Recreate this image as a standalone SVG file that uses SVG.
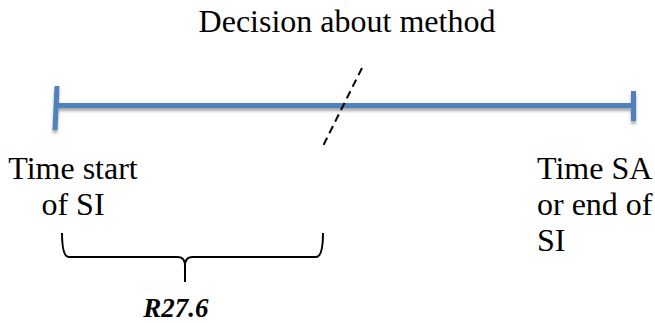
<svg xmlns="http://www.w3.org/2000/svg" width="655" height="323" viewBox="0 0 655 323">
<style>
.t{font-family:'Liberation Serif',Tinos,'Times New Roman','DejaVu Serif',serif;font-size:32px;fill:#000}
.b{font-family:'Liberation Serif',Tinos,'Times New Roman','DejaVu Serif',serif;font-size:27px;font-weight:bold;font-style:italic;fill:#000}
.axis{stroke:#4F81BD;stroke-width:5;fill:none}
</style>
<defs>
<filter id="sh" x="-10%" y="-50%" width="120%" height="200%">
<feGaussianBlur in="SourceAlpha" stdDeviation="1.5"/>
<feOffset dx="0" dy="3" result="o"/>
<feComponentTransfer><feFuncA type="linear" slope="0.35"/></feComponentTransfer>
<feMerge><feMergeNode/><feMergeNode in="SourceGraphic"/></feMerge>
</filter>
</defs>
<rect width="655" height="323" fill="#fff"/>
<g id="timeline" filter="url(#sh)">
<line class="axis" x1="58" y1="105.5" x2="631" y2="105.5"/>
<line class="axis" x1="57" y1="86" x2="55" y2="130"/>
<line class="axis" x1="633.5" y1="91" x2="633.5" y2="121"/>
</g>
<g id="connectors">
<line x1="362" y1="68" x2="322" y2="148" stroke="#000" stroke-width="2" stroke-dasharray="8,5"/>
<path d="M62,233 Q62,257 69,257 L178,257 Q185,257 185,266 L185,282 M185,266 Q185,257 192,257 L316,257 Q323,257 323,233" fill="none" stroke="#000" stroke-width="2"/>
</g>
<g id="decision"><text class="t" x="347" y="32" text-anchor="middle" font-family="Liberation Serif, serif">Decision about method</text></g>
<g id="start">
<text class="t" x="73" y="179" text-anchor="middle">Time start</text>
<text class="t" x="73" y="215" text-anchor="middle">of SI</text>
</g>
<g id="end">
<text class="t" x="537" y="179">Time SA</text>
<text class="t" x="537" y="215">or end of</text>
<text class="t" x="537" y="251">SI</text>
</g>
<g id="label"><text class="b" x="176" y="317" text-anchor="middle">R27.6</text></g>
</svg>
